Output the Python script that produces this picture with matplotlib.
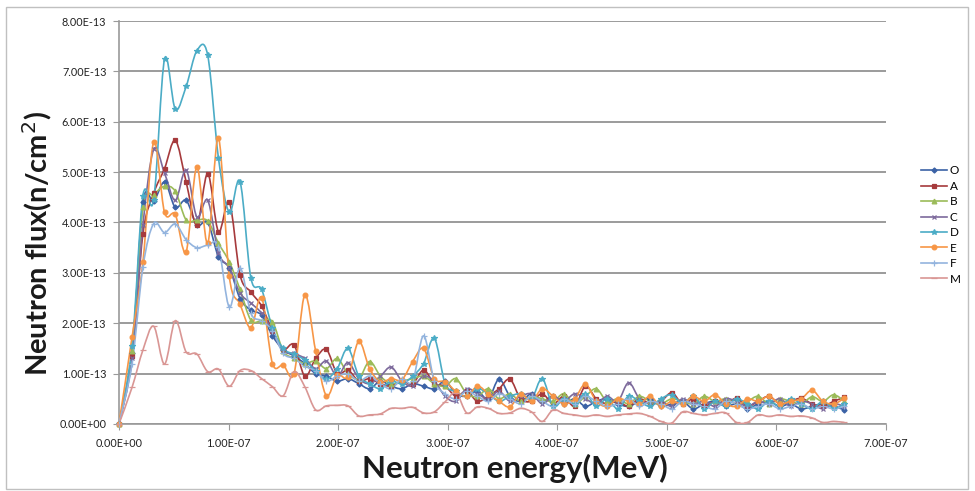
import numpy as np
import matplotlib
matplotlib.use("Agg")
import matplotlib.pyplot as plt
from matplotlib.path import Path
from matplotlib.patches import PathPatch, Rectangle
from matplotlib.lines import Line2D
from matplotlib.ticker import FuncFormatter, MultipleLocator

plt.rcParams["font.family"] = ["Lato", "DejaVu Sans"]

# energy grid, in units of 1e-8 MeV
energy_e8 = [0, 1.20, 2.19, 3.17, 4.16, 5.14, 6.13, 7.11, 8.10, 9.08, 10.07,
             11.05, 12.04, 13.02, 14.01, 14.99, 15.98, 16.96, 17.95, 18.93, 19.92,
             20.90, 21.89, 22.87, 23.86, 24.84, 25.83, 26.81, 27.80, 28.78, 29.77,
             30.75, 31.74, 32.72, 33.71, 34.69, 35.68, 36.66, 37.65, 38.63, 39.62,
             40.60, 41.59, 42.57, 43.56, 44.54, 45.53, 46.51, 47.50, 48.48, 49.47,
             50.45, 51.44, 52.42, 53.41, 54.39, 55.38, 56.36, 57.35, 58.33, 59.32,
             60.30, 61.29, 62.27, 63.26, 64.24, 65.23, 66.21]

# neutron flux per position, in units of 1e-13 n/cm^2
flux_O = [0, 1.40, 4.40, 4.42, 4.80, 4.30, 4.44, 3.95, 4.00, 3.32, 3.10,
          2.49, 2.26, 2.16, 1.75, 1.47, 1.35, 1.20, 1.00, 0.95, 0.85,
          0.90, 0.80, 0.70, 0.85, 0.75, 0.70, 0.80, 0.75, 0.70, 0.85,
          0.60, 0.55, 0.65, 0.50, 0.89, 0.55, 0.45, 0.60, 0.45, 0.55,
          0.40, 0.50, 0.35, 0.45, 0.50, 0.40, 0.35, 0.45, 0.50, 0.35,
          0.40, 0.45, 0.30, 0.40, 0.45, 0.35, 0.40, 0.30, 0.40, 0.45,
          0.35, 0.40, 0.30, 0.35, 0.40, 0.35, 0.28]
flux_A = [0, 1.35, 3.78, 4.58, 5.07, 5.63, 4.81, 3.95, 4.97, 3.82, 4.41,
          2.96, 2.62, 2.34, 1.85, 1.48, 1.57, 0.95, 1.30, 1.48, 1.00,
          1.07, 0.85, 0.90, 0.80, 0.75, 0.85, 0.80, 1.07, 0.80, 0.75,
          0.55, 0.65, 0.45, 0.55, 0.70, 0.89, 0.50, 0.45, 0.60, 0.40,
          0.55, 0.35, 0.75, 0.50, 0.40, 0.45, 0.35, 0.50, 0.40, 0.45,
          0.62, 0.40, 0.50, 0.35, 0.45, 0.40, 0.51, 0.35, 0.45, 0.55,
          0.40, 0.45, 0.51, 0.40, 0.35, 0.45, 0.53]
flux_B = [0, 1.45, 4.30, 4.55, 4.72, 4.62, 4.05, 4.05, 4.03, 3.59, 3.22,
          2.67, 2.06, 2.05, 2.03, 1.45, 1.30, 1.20, 1.25, 1.10, 1.30,
          1.00, 0.90, 1.24, 0.95, 0.80, 0.85, 0.90, 0.95, 0.80, 0.75,
          0.90, 0.60, 0.55, 0.70, 0.50, 0.60, 0.45, 0.55, 0.50, 0.45,
          0.60, 0.40, 0.55, 0.70, 0.45, 0.50, 0.40, 0.55, 0.45, 0.40,
          0.50, 0.45, 0.40, 0.55, 0.45, 0.50, 0.40, 0.45, 0.55, 0.40,
          0.50, 0.45, 0.40, 0.54, 0.45, 0.58, 0.45]
flux_C = [0, 1.30, 3.95, 5.45, 4.98, 4.44, 5.04, 4.11, 4.44, 3.40, 3.10,
          2.60, 2.40, 2.20, 1.85, 1.45, 1.40, 1.30, 1.10, 1.25, 0.95,
          1.22, 0.90, 0.80, 0.95, 1.13, 0.85, 0.75, 0.95, 0.85, 0.55,
          0.45, 0.70, 0.60, 0.50, 0.65, 0.45, 0.55, 0.60, 0.40, 0.55,
          0.45, 0.60, 0.50, 0.40, 0.55, 0.45, 0.82, 0.50, 0.40, 0.45,
          0.35, 0.50, 0.40, 0.45, 0.35, 0.50, 0.45, 0.35, 0.45, 0.40,
          0.50, 0.35, 0.45, 0.40, 0.30, 0.40, 0.35]
flux_D = [0, 1.55, 4.53, 4.45, 7.24, 6.25, 6.70, 7.41, 7.32, 5.28, 4.20,
          4.81, 2.90, 2.67, 1.90, 1.50, 1.38, 1.27, 1.05, 0.90, 1.10,
          1.50, 0.95, 0.80, 0.70, 0.85, 0.80, 0.95, 1.20, 1.70, 0.80,
          0.65, 0.55, 0.70, 0.60, 0.45, 0.55, 0.60, 0.50, 0.90, 0.35,
          0.50, 0.40, 0.60, 0.35, 0.50, 0.30, 0.55, 0.45, 0.35, 0.50,
          0.58, 0.40, 0.55, 0.30, 0.45, 0.35, 0.50, 0.40, 0.30, 0.45,
          0.35, 0.50, 0.40, 0.30, 0.45, 0.31, 0.40]
flux_E = [0, 1.73, 3.22, 5.60, 4.20, 4.16, 3.42, 5.10, 3.59, 5.68, 2.93,
          2.38, 1.91, 2.51, 1.20, 1.17, 1.00, 2.56, 1.45, 0.56, 0.97,
          0.94, 1.64, 1.10, 0.84, 0.90, 0.88, 1.24, 1.50, 0.90, 0.84,
          0.65, 0.55, 0.75, 0.60, 0.45, 0.34, 0.60, 0.45, 0.70, 0.55,
          0.40, 0.50, 0.79, 0.45, 0.35, 0.50, 0.45, 0.40, 0.55, 0.35,
          0.45, 0.40, 0.55, 0.45, 0.58, 0.40, 0.35, 0.50, 0.45, 0.55,
          0.40, 0.45, 0.50, 0.67, 0.45, 0.40, 0.51]
flux_F = [0, 1.20, 3.12, 3.98, 3.80, 3.97, 3.66, 3.50, 3.55, 3.52, 2.32,
          3.10, 2.20, 2.05, 1.85, 1.40, 1.30, 1.15, 1.05, 0.85, 0.95,
          1.00, 0.85, 0.95, 0.80, 0.70, 0.90, 0.85, 1.75, 0.85, 0.60,
          0.50, 0.65, 0.55, 0.45, 0.60, 0.50, 0.40, 0.55, 0.45, 0.35,
          0.50, 0.40, 0.55, 0.45, 0.35, 0.40, 0.50, 0.35, 0.45, 0.40,
          0.30, 0.45, 0.40, 0.35, 0.30, 0.45, 0.40, 0.30, 0.35, 0.40,
          0.30, 0.35, 0.40, 0.30, 0.35, 0.30, 0.35]
flux_M = [0, 0.73, 1.47, 1.94, 1.19, 2.05, 1.43, 1.39, 1.04, 1.09, 0.75,
          1.06, 1.06, 0.90, 0.74, 0.56, 1.04, 0.74, 0.28, 0.36, 0.37,
          0.36, 0.16, 0.18, 0.20, 0.31, 0.31, 0.33, 0.22, 0.24, 0.44,
          0.62, 0.22, 0.34, 0.31, 0.21, 0.22, 0.31, 0.24, 0.05, 0.28,
          0.21, 0.18, 0.15, 0.18, 0.15, 0.18, 0.20, 0.21, 0.15, 0.05,
          0.02, 0.24, 0.21, 0.18, 0.21, 0.22, 0.03, 0.03, 0.18, 0.15,
          0.18, 0.15, 0.16, 0.12, 0.03, 0.05, 0.03]

labels = ["O", "A", "B", "C", "D", "E", "F", "M"]
series = [flux_O, flux_A, flux_B, flux_C, flux_D, flux_E, flux_F, flux_M]
colors = ["#3B62A6", "#A63A3C", "#9BBB59", "#7D6A9C", "#4BACC6", "#F79646", "#93B4DE", "#D99694"]
markers = ["D", "s", "^", "x", "*", "o", "+", "_"]
msizes = [2.6, 3.2, 3.4, 3.4, 3.8, 3.4, 4.0, 4.0]


def smooth_path(x, y):
    # Bezier curve through every point, the way spreadsheet "smoothed lines" draw
    pts = np.column_stack([x, y])
    n = len(pts)
    verts = [pts[0]]
    codes = [Path.MOVETO]
    for i in range(n - 1):
        p0 = pts[i - 1] if i > 0 else pts[i]
        p1 = pts[i]
        p2 = pts[i + 1]
        p3 = pts[i + 2] if i + 2 < n else pts[i + 1]
        c1 = p1 + (p2 - p0) / 6.0
        c2 = p2 - (p3 - p1) / 6.0
        verts += [c1, c2, p2]
        codes += [Path.CURVE4] * 3
    return Path(verts, codes)


fig = plt.figure(figsize=(9.75, 4.91), dpi=100)
ax = fig.add_axes([0.122, 0.1365, 0.7867, 0.8207])

x = np.array(energy_e8) * 1e-8
handles = []
for lab, vals, col, mk, ms in zip(labels, series, colors, markers, msizes):
    y = np.array(vals) * 1e-13
    ax.add_patch(PathPatch(smooth_path(x, y), fill=False, edgecolor=col, lw=1.2, zorder=3))
    ax.plot(x, y, linestyle="none", marker=mk, ms=ms, color=col, mec=col,
            mew=0.9, zorder=4, clip_on=False)
    handles.append(Line2D([], [], color=col, lw=1.2, marker=mk, ms=ms, mec=col, mew=0.9))

ax.set_xlim(0, 7e-7)
ax.set_ylim(0, 8e-13)
ax.xaxis.set_major_locator(MultipleLocator(1e-7))
ax.yaxis.set_major_locator(MultipleLocator(1e-13))
ax.xaxis.set_major_formatter(FuncFormatter(lambda v, p: f"{v:.2E}"))
ax.yaxis.set_major_formatter(FuncFormatter(lambda v, p: f"{v:.2E}"))

ax.grid(axis="y", color="#8A8A8A", lw=1.2)
ax.set_axisbelow(True)
for s in ["top", "right"]:
    ax.spines[s].set_visible(False)
for s in ["left", "bottom"]:
    ax.spines[s].set_color("#9A9A9A")
    ax.spines[s].set_linewidth(1.2)
ax.tick_params(axis="both", direction="out", length=4, color="#9A9A9A",
               labelsize=7.8, labelcolor="#222222", pad=6)
ax.tick_params(axis="y", pad=5)

fig.text(515 / 975, 1 - 468 / 491, "Neutron energy(MeV)", ha="center", va="center",
         fontsize=22.5, fontweight="bold", color="#1A1A1A")
fig.text(37 / 975, 1 - 243 / 491, "Neutron flux(n/cm$^2$)", ha="center", va="center",
         rotation=90, fontsize=21, fontweight="bold", color="#1A1A1A")

fig.legend(handles, labels, loc="center left", bbox_to_anchor=(0.945, 0.542),
           frameon=False, fontsize=8.5, handlelength=2.2, labelspacing=0.38,
           handletextpad=0.2, borderaxespad=0, borderpad=0)

fig.add_artist(Rectangle((0.006, 0.004), 0.987, 0.982, transform=fig.transFigure,
                         fill=False, edgecolor="#C0C0C0", lw=1.0))

fig.savefig("out.png", dpi=100)
